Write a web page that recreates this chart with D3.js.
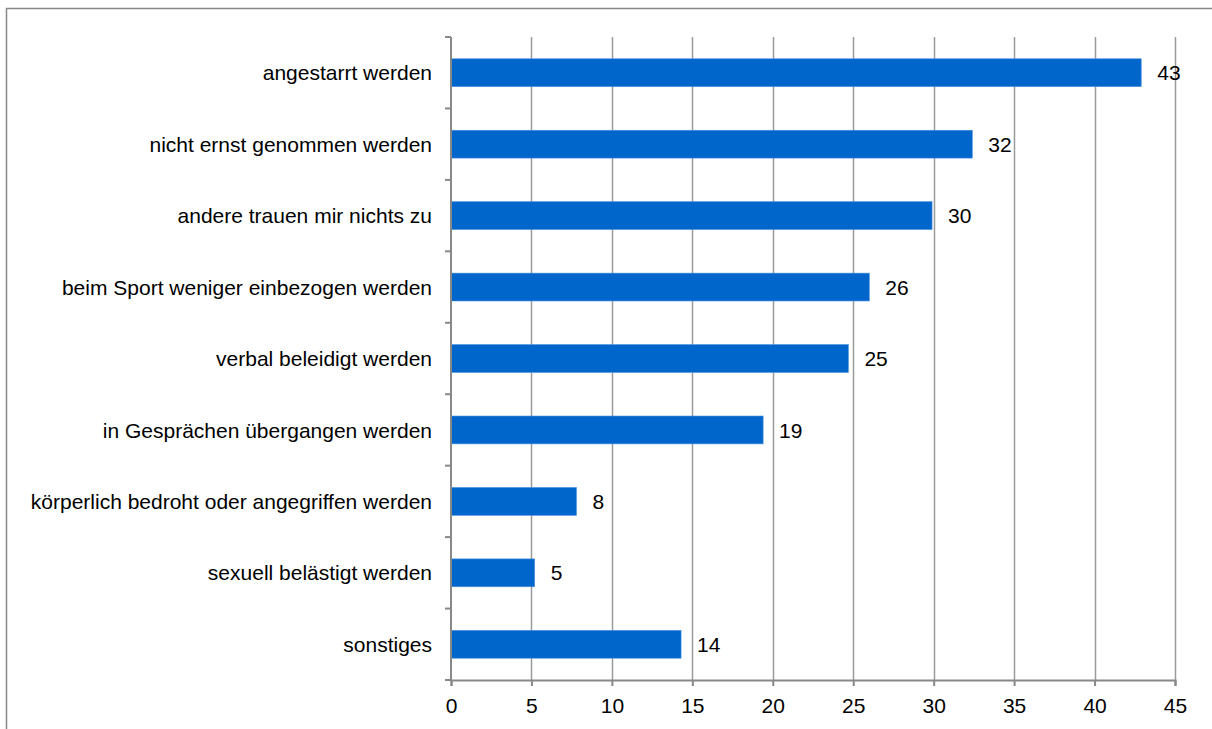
<!DOCTYPE html>
<html>
<head>
<meta charset="utf-8">
<script src="https://cdn.jsdelivr.net/npm/d3@7"></script>
<style>
  html, body { margin: 0; padding: 0; background: #fff; }
  svg { display: block; }
  text { font-family: "Liberation Sans", Arial, sans-serif; fill: #000; }
</style>
</head>
<body>
<svg id="chart" width="1212" height="729"></svg>
<script>
// Categories, top to bottom
const categories = [
  "angestarrt werden",
  "nicht ernst genommen werden",
  "andere trauen mir nichts zu",
  "beim Sport weniger einbezogen werden",
  "verbal beleidigt werden",
  "in Gesprächen übergangen werden",
  "körperlich bedroht oder angegriffen werden",
  "sexuell belästigt werden",
  "sonstiges"
];
// Percentages per category
const values = [42.9, 32.4, 29.9, 26.0, 24.7, 19.4, 7.8, 5.2, 14.3];
// X axis ticks
const xTicks = [0, 5, 10, 15, 20, 25, 30, 35, 40, 45];

const FONT = 21;
const svg = d3.select("#chart");
const plot = { left: 451, right: 1175, top: 37, bottom: 680 };

// Outer frame of the chart area
svg.append("rect")
  .attr("x", 6.5).attr("y", 8.5)
  .attr("width", 1300).attr("height", 900)
  .attr("fill", "#fff")
  .attr("stroke", "#888").attr("stroke-width", 1.5);

const x = d3.scaleLinear().domain([0, 45]).range([plot.left, plot.right]);
const y = d3.scaleBand().domain(categories).range([plot.top, plot.bottom])
  .paddingInner(0.61).paddingOuter(0.305);
const band = d3.scaleBand().domain(categories).range([plot.top, plot.bottom]);

// Vertical gridlines
svg.append("g").selectAll("line")
  .data(xTicks.slice(1))
  .join("line")
  .attr("x1", d => Math.round(x(d)) + 0.5).attr("x2", d => Math.round(x(d)) + 0.5)
  .attr("y1", plot.top).attr("y2", plot.bottom)
  .attr("stroke", "#9a9a9a").attr("stroke-width", 1.5);

// Bars
svg.append("g").selectAll("rect")
  .data(values)
  .join("rect")
  .attr("x", x(0))
  .attr("y", (d, i) => y(categories[i]))
  .attr("width", d => x(d) - x(0))
  .attr("height", y.bandwidth())
  .attr("fill", "#0066cc")
  .attr("stroke", "#4a90de").attr("stroke-width", 0.6);

// Value labels
svg.append("g").selectAll("text")
  .data(values)
  .join("text")
  .attr("x", d => x(d) + 16)
  .attr("y", (d, i) => y(categories[i]) + y.bandwidth() / 2)
  .attr("dy", "0.36em")
  .attr("font-size", FONT)
  .text(d => d3.format(".0f")(d));

// X axis
const xAxis = d3.axisBottom(x).tickValues(xTicks).tickSize(6).tickPadding(12)
  .tickFormat(d3.format("d"));
const gx = svg.append("g").attr("transform", `translate(0,${plot.bottom})`).call(xAxis);
gx.select(".domain").attr("stroke", "#888").attr("stroke-width", 2);
gx.selectAll(".tick line").attr("stroke", "#888").attr("stroke-width", 2);
gx.selectAll(".tick text").attr("font-size", FONT)
  .attr("font-family", "'Liberation Sans', Arial, sans-serif").attr("fill", "#000");

// Y axis: ticks sit on the category boundaries
const gy = svg.append("g");
gy.append("line")
  .attr("x1", plot.left).attr("x2", plot.left)
  .attr("y1", plot.top).attr("y2", plot.bottom)
  .attr("stroke", "#888").attr("stroke-width", 2);
const boundaries = categories.map(c => band(c)).concat([plot.bottom]);
gy.selectAll("line.tk")
  .data(boundaries)
  .join("line").attr("class", "tk")
  .attr("x1", plot.left - 6).attr("x2", plot.left)
  .attr("y1", d => d).attr("y2", d => d)
  .attr("stroke", "#888").attr("stroke-width", 2);
gy.selectAll("text")
  .data(categories)
  .join("text")
  .attr("x", plot.left - 19)
  .attr("y", d => band(d) + band.bandwidth() / 2)
  .attr("dy", "0.36em")
  .attr("text-anchor", "end")
  .attr("font-size", FONT)
  .text(d => d);
</script>
</body>
</html>
